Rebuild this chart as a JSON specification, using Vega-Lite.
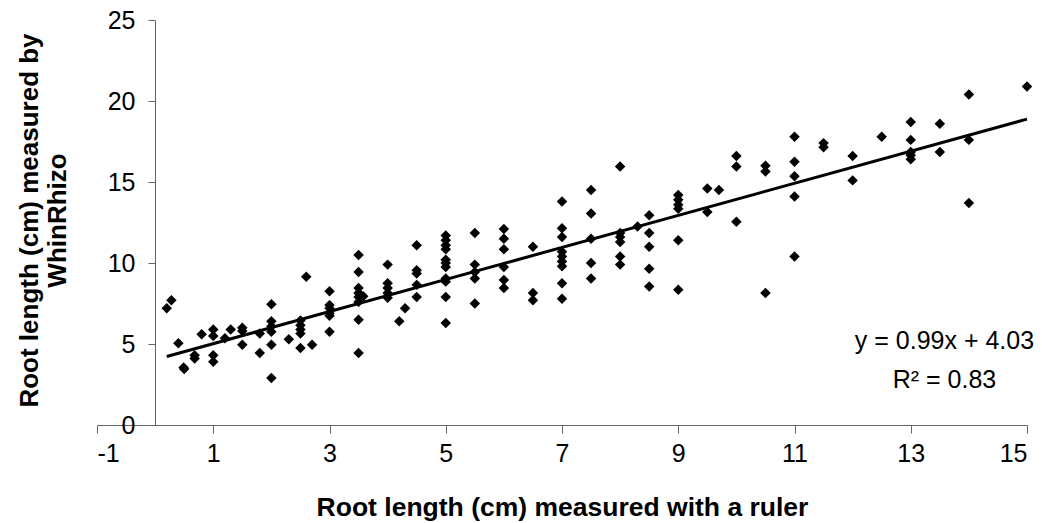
{
  "$schema": "https://vega.github.io/schema/vega-lite/v6.json",
  "autosize": {"type": "none"},
  "padding": {"left": 97, "top": 20, "right": 15, "bottom": 98},
  "width": 930,
  "height": 405,
  "background": "white",
  "config": {"view": {"stroke": null}, "font": "Liberation Sans"},
  "data": {"values": [
    {"ruler":0.2,"whinrhizo":7.2},{"ruler":0.28,"whinrhizo":7.7},{"ruler":0.4,"whinrhizo":5.05},{"ruler":0.5,"whinrhizo":3.45},{"ruler":0.49,"whinrhizo":3.55},
    {"ruler":0.68,"whinrhizo":4.3},{"ruler":0.68,"whinrhizo":4.1},{"ruler":0.8,"whinrhizo":5.6},
    {"ruler":1,"whinrhizo":5.9},{"ruler":1,"whinrhizo":5.5},{"ruler":1,"whinrhizo":4.3},{"ruler":1,"whinrhizo":3.9},
    {"ruler":1.2,"whinrhizo":5.35},{"ruler":1.3,"whinrhizo":5.9},
    {"ruler":1.5,"whinrhizo":6.0},{"ruler":1.5,"whinrhizo":5.8},{"ruler":1.5,"whinrhizo":4.95},
    {"ruler":1.8,"whinrhizo":5.65},{"ruler":1.8,"whinrhizo":4.45},
    {"ruler":2,"whinrhizo":7.45},{"ruler":2,"whinrhizo":6.4},{"ruler":2,"whinrhizo":6.1},{"ruler":2,"whinrhizo":5.75},{"ruler":2,"whinrhizo":4.95},{"ruler":2,"whinrhizo":2.9},
    {"ruler":2.3,"whinrhizo":5.3},
    {"ruler":2.5,"whinrhizo":6.45},{"ruler":2.5,"whinrhizo":6.15},{"ruler":2.5,"whinrhizo":5.9},{"ruler":2.5,"whinrhizo":5.65},{"ruler":2.5,"whinrhizo":4.75},
    {"ruler":2.6,"whinrhizo":9.15},{"ruler":2.7,"whinrhizo":4.95},
    {"ruler":3,"whinrhizo":8.25},{"ruler":3,"whinrhizo":7.4},{"ruler":3,"whinrhizo":7.2},{"ruler":3,"whinrhizo":6.9},{"ruler":3,"whinrhizo":6.75},{"ruler":3,"whinrhizo":5.75},
    {"ruler":3.5,"whinrhizo":10.5},{"ruler":3.5,"whinrhizo":9.45},{"ruler":3.5,"whinrhizo":8.45},{"ruler":3.5,"whinrhizo":8.15},{"ruler":3.5,"whinrhizo":7.9},{"ruler":3.5,"whinrhizo":7.6},{"ruler":3.5,"whinrhizo":6.5},{"ruler":3.5,"whinrhizo":4.45},{"ruler":3.58,"whinrhizo":7.95},
    {"ruler":4,"whinrhizo":9.9},{"ruler":4,"whinrhizo":8.75},{"ruler":4,"whinrhizo":8.45},{"ruler":4,"whinrhizo":8.15},{"ruler":4,"whinrhizo":7.85},
    {"ruler":4.2,"whinrhizo":6.4},{"ruler":4.3,"whinrhizo":7.2},
    {"ruler":4.5,"whinrhizo":11.1},{"ruler":4.5,"whinrhizo":9.55},{"ruler":4.5,"whinrhizo":9.35},{"ruler":4.5,"whinrhizo":8.65},{"ruler":4.5,"whinrhizo":7.9},
    {"ruler":5,"whinrhizo":11.7},{"ruler":5,"whinrhizo":11.4},{"ruler":5,"whinrhizo":11.1},{"ruler":5,"whinrhizo":10.85},{"ruler":5,"whinrhizo":10.2},{"ruler":5,"whinrhizo":10.0},{"ruler":5,"whinrhizo":9.75},{"ruler":5,"whinrhizo":9.05},{"ruler":5,"whinrhizo":8.85},{"ruler":5,"whinrhizo":7.9},{"ruler":5,"whinrhizo":6.3},
    {"ruler":5.5,"whinrhizo":11.85},{"ruler":5.5,"whinrhizo":9.9},{"ruler":5.5,"whinrhizo":9.45},{"ruler":5.5,"whinrhizo":9.05},{"ruler":5.5,"whinrhizo":7.5},
    {"ruler":6,"whinrhizo":12.1},{"ruler":6,"whinrhizo":11.5},{"ruler":6,"whinrhizo":10.85},{"ruler":6,"whinrhizo":9.75},{"ruler":6,"whinrhizo":8.95},{"ruler":6,"whinrhizo":8.45},
    {"ruler":6.5,"whinrhizo":11.0},{"ruler":6.5,"whinrhizo":8.15},{"ruler":6.5,"whinrhizo":7.7},
    {"ruler":7,"whinrhizo":13.8},{"ruler":7,"whinrhizo":12.15},{"ruler":7,"whinrhizo":11.6},{"ruler":7,"whinrhizo":10.7},{"ruler":7,"whinrhizo":10.4},{"ruler":7,"whinrhizo":10.1},{"ruler":7,"whinrhizo":9.8},{"ruler":7,"whinrhizo":8.75},{"ruler":7,"whinrhizo":7.8},
    {"ruler":7.5,"whinrhizo":14.5},{"ruler":7.5,"whinrhizo":13.05},{"ruler":7.5,"whinrhizo":11.5},{"ruler":7.5,"whinrhizo":10.0},{"ruler":7.5,"whinrhizo":9.05},
    {"ruler":8,"whinrhizo":15.95},{"ruler":8,"whinrhizo":11.85},{"ruler":8,"whinrhizo":11.6},{"ruler":8,"whinrhizo":11.3},{"ruler":8,"whinrhizo":10.4},{"ruler":8,"whinrhizo":9.9},
    {"ruler":8.3,"whinrhizo":12.25},
    {"ruler":8.5,"whinrhizo":12.95},{"ruler":8.5,"whinrhizo":11.85},{"ruler":8.5,"whinrhizo":11.0},{"ruler":8.5,"whinrhizo":9.65},{"ruler":8.5,"whinrhizo":8.55},
    {"ruler":9,"whinrhizo":14.2},{"ruler":9,"whinrhizo":13.9},{"ruler":9,"whinrhizo":13.6},{"ruler":9,"whinrhizo":13.35},{"ruler":9,"whinrhizo":11.4},{"ruler":9,"whinrhizo":8.35},
    {"ruler":9.5,"whinrhizo":14.6},{"ruler":9.5,"whinrhizo":13.15},{"ruler":9.7,"whinrhizo":14.5},
    {"ruler":10,"whinrhizo":16.6},{"ruler":10,"whinrhizo":15.95},{"ruler":10,"whinrhizo":12.55},
    {"ruler":10.5,"whinrhizo":16.0},{"ruler":10.5,"whinrhizo":15.65},{"ruler":10.5,"whinrhizo":8.15},
    {"ruler":11,"whinrhizo":17.8},{"ruler":11,"whinrhizo":16.25},{"ruler":11,"whinrhizo":15.35},{"ruler":11,"whinrhizo":14.1},{"ruler":11,"whinrhizo":10.4},
    {"ruler":11.5,"whinrhizo":17.4},{"ruler":11.5,"whinrhizo":17.15},
    {"ruler":12,"whinrhizo":16.6},{"ruler":12,"whinrhizo":15.1},
    {"ruler":12.5,"whinrhizo":17.8},
    {"ruler":13,"whinrhizo":18.7},{"ruler":13,"whinrhizo":17.6},{"ruler":13,"whinrhizo":16.85},{"ruler":13,"whinrhizo":16.65},{"ruler":13,"whinrhizo":16.4},
    {"ruler":13.5,"whinrhizo":18.6},{"ruler":13.5,"whinrhizo":16.85},
    {"ruler":14,"whinrhizo":20.4},{"ruler":14,"whinrhizo":17.6},{"ruler":14,"whinrhizo":13.7},
    {"ruler":15,"whinrhizo":20.9}
  ]},
  "layer": [
    {
      "mark": {"type": "point", "shape": "diamond", "filled": true, "color": "black", "opacity": 1, "size": 110},
      "encoding": {
        "x": {"field": "ruler", "type": "quantitative",
          "scale": {"domain": [-1, 15], "nice": false, "zero": false},
          "axis": {"title": "Root length (cm) measured with a ruler", "values": [-1,1,3,5,7,9,11,13,15],
            "labelExpr": "'' + datum.value",
            "grid": false, "domainColor": "#666666", "tickColor": "#666666", "tickSize": 8,
            "labelFontSize": 25, "labelColor": "black", "labelPadding": 8, "labelFont": "Liberation Sans",
            "titleFontSize": 26.5, "titleFontWeight": "bold", "titleColor": "black", "titleFont": "Liberation Sans",
            "titleBaseline": "alphabetic", "titleY": 90}},
        "y": {"field": "whinrhizo", "type": "quantitative",
          "scale": {"domain": [0, 25], "nice": false},
          "axis": {"title": ["Root length (cm) measured by", "WhinRhizo"], "values": [0,5,10,15,20,25],
            "labelExpr": "'' + datum.value",
            "offset": -58, "grid": false, "domainColor": "#666666", "tickColor": "#666666", "tickSize": 7,
            "labelFontSize": 25, "labelColor": "black", "labelPadding": 13, "labelFont": "Liberation Sans",
            "titleFontSize": 26, "titleFontWeight": "bold", "titleColor": "black", "titleFont": "Liberation Sans",
            "titleAngle": -90, "titleX": -139, "titleY": 200, "titleAlign": "center", "titleBaseline": "top", "titleLineHeight": 28}}
      }
    },
    {
      "data": {"values": [{"ruler": 0.2, "whinrhizo": 4.23}, {"ruler": 15, "whinrhizo": 18.88}]},
      "mark": {"type": "line", "color": "black", "strokeWidth": 3},
      "encoding": {
        "x": {"field": "ruler", "type": "quantitative"},
        "y": {"field": "whinrhizo", "type": "quantitative"}
      }
    },
    {
      "data": {"values": [{}]},
      "mark": {"type": "text", "fontSize": 25, "font": "Liberation Sans", "color": "black", "align": "center", "baseline": "alphabetic", "lineHeight": 39},
      "encoding": {
        "x": {"datum": 13.58, "type": "quantitative"},
        "y": {"datum": 4.7, "type": "quantitative"},
        "text": {"value": ["y = 0.99x + 4.03", "R² = 0.83"]}
      }
    }
  ]
}
